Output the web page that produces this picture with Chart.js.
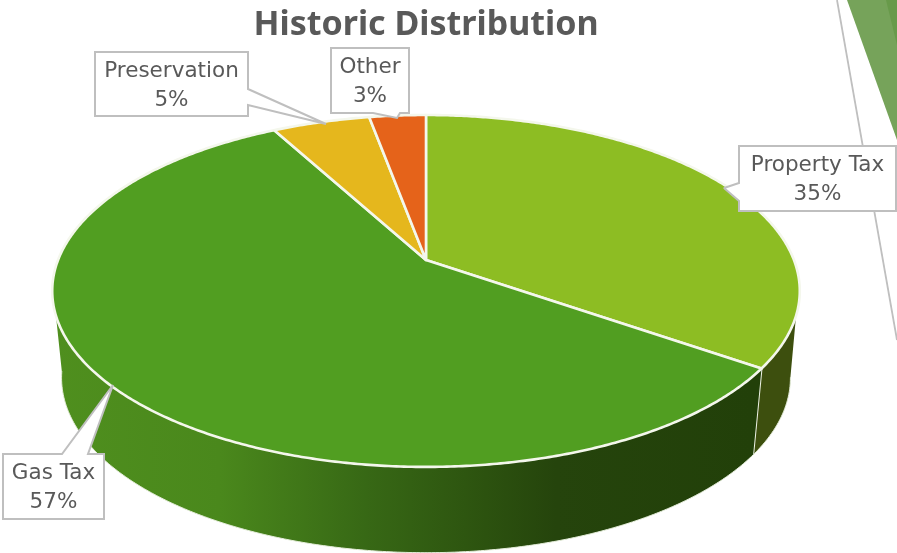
<!DOCTYPE html>
<html><head><meta charset="utf-8">
<style>html,body{margin:0;padding:0;background:#fff;overflow:hidden}canvas{display:block}</style>
<script src="https://cdn.jsdelivr.net/npm/chart.js@4/dist/chart.umd.js"></script>
</head><body><canvas id="c" width="897" height="553"></canvas>
<script>
const categories = ["Property Tax","Gas Tax","Preservation","Other"];
const shares = [34.7,57.4,5.0,2.9];
const sliceColors = ["#8dbd23","#519e21","#e5b71d","#e5631a"];
const titleText = "Historic Distribution";

const FONT = '"DejaVu Sans"';
const TEXT = "#595959", BOX = "#bfbfbf";
// perspective of the disc: apex stays at the element centre
const K = -0.176, XS = 2.158;
const DROP = 87, LOW_X = 0.975, LOW_Y = 0.994;
function proj(el, a, low){
  const u = Math.cos(a), v = Math.sin(a), d = 1 + K*v, R = el.outerRadius;
  return low ? [el.x + R*XS*LOW_X*u/d, el.y + DROP + R*LOW_Y*v/d]
             : [el.x + R*XS*u/d, el.y + R*v/d];
}
const RAD = Math.PI/180;
// where the silhouette of the cylinder leaves the top rim and the lower rim
const TOP_R = 18*RAD, LOW_R = 10*RAD, TOP_L = 162*RAD, LOW_L = 172*RAD;
function arcPts(el, a0, a1, low){
  const n = Math.max(2, Math.ceil((a1-a0)/(0.5*RAD))), pts = [];
  for(let i=0;i<=n;i++) pts.push(proj(el, a0+(a1-a0)*i/n, low));
  return pts;
}
function wallFill(ctx, i){
  if(i===0) return "#3d4f0e";
  const g = ctx.createLinearGradient(52,0,752,0);
  [[0,"#4f8f1e"],[0.24,"#4a881c"],[0.45,"#376815"],[0.62,"#2c520f"],[0.72,"#25440c"],[1,"#224009"]]
    .forEach(s=>g.addColorStop(s[0],s[1]));
  return g;
}
function path(ctx, pts){ pts.forEach((p,k)=>k?ctx.lineTo(p[0],p[1]):ctx.moveTo(p[0],p[1])); }
Chart.ArcElement.prototype.draw = function(ctx){
  const i = this.$context ? this.$context.dataIndex : 0;
  const a0 = this.startAngle, a1 = this.endAngle;
  ctx.save();
  // side wall: only slices that reach the front of the disc have one
  const t0 = Math.max(a0, TOP_R), t1 = Math.min(a1, TOP_L);
  if(t1 > t0){
    const l0 = Math.max(a0, LOW_R), l1 = Math.min(a1, LOW_L);
    const top = arcPts(this,t0,t1,false), low = arcPts(this,l0,l1,true);
    ctx.beginPath();
    path(ctx, top.concat(low.slice().reverse()));
    ctx.closePath();
    ctx.fillStyle = wallFill(ctx,i); ctx.fill();
    ctx.beginPath(); path(ctx, low);
    ctx.strokeStyle = "#e3ecd8"; ctx.lineWidth = 1; ctx.stroke();
    if(i===0){
      const p = proj(this,a1,false), q = proj(this,a1,true);
      ctx.beginPath(); ctx.moveTo(p[0],p[1]); ctx.lineTo(q[0],q[1]);
      ctx.strokeStyle = "#eef3e6"; ctx.lineWidth = 2; ctx.stroke();
    }
  }
  // top face
  ctx.beginPath(); ctx.moveTo(this.x,this.y);
  arcPts(this,a0,a1,false).forEach(p=>ctx.lineTo(p[0],p[1]));
  ctx.closePath();
  ctx.fillStyle = sliceColors[i]; ctx.fill();
  ctx.lineJoin = "round"; ctx.strokeStyle = "#f4f7ec"; ctx.lineWidth = 2.6; ctx.stroke();
  ctx.restore();
};

const callouts = {
  "Property Tax": {box:[739,146,896,211], ptr:[[739,183],[724,188],[739,201]]},
  "Gas Tax":      {box:[3,454,104,519],   ptr:[[62,454],[113,385],[88,454]]},
  "Preservation": {box:[95,52,248,116],   ptr:[[248,89],[326,124],[248,105]]},
  "Other":        {box:[331,48,409,113],  ptr:[[373,113],[397,118],[400,113]]}
};
const decor = {
  id:"decor",
  beforeDraw(chart){
    const c = chart.ctx; c.save();
    c.fillStyle="#76a35a"; c.beginPath(); c.moveTo(847,0); c.lineTo(897,0); c.lineTo(897,140); c.closePath(); c.fill();
    c.fillStyle="#689a4a"; c.beginPath(); c.moveTo(886,0); c.lineTo(897,0); c.lineTo(897,45); c.closePath(); c.fill();
    c.strokeStyle=BOX; c.lineWidth=1.8; c.beginPath(); c.moveTo(837,0); c.lineTo(897,340); c.stroke();
    c.restore();
  },
  afterDraw(chart){
    const c = chart.ctx; c.save();
    categories.forEach((name,i)=>{
      const o = callouts[name], [l,t,r,b] = o.box;
      const [p0,p1,p2] = o.ptr;
      c.beginPath();
      if(p0[0]===r){ c.moveTo(l,t);c.lineTo(r,t);c.lineTo(p0[0],p0[1]);c.lineTo(p1[0],p1[1]);c.lineTo(p2[0],p2[1]);c.lineTo(r,b);c.lineTo(l,b); }
      else if(p0[0]===l){ c.moveTo(r,t);c.lineTo(l,t);c.lineTo(p0[0],p0[1]);c.lineTo(p1[0],p1[1]);c.lineTo(p2[0],p2[1]);c.lineTo(l,b);c.lineTo(r,b); }
      else if(p0[1]===t){ c.moveTo(l,b);c.lineTo(l,t);c.lineTo(p0[0],p0[1]);c.lineTo(p1[0],p1[1]);c.lineTo(p2[0],p2[1]);c.lineTo(r,t);c.lineTo(r,b); }
      else { c.moveTo(l,t);c.lineTo(r,t);c.lineTo(r,b);c.lineTo(p2[0],p2[1]);c.lineTo(p1[0],p1[1]);c.lineTo(p0[0],p0[1]);c.lineTo(l,b); }
      c.closePath();
      c.fillStyle="#fff"; c.fill();
      c.strokeStyle=BOX; c.lineWidth=2; c.lineJoin="miter"; c.miterLimit=2; c.stroke();
      c.fillStyle=TEXT; c.font="21.5px "+FONT; c.textAlign="center"; c.textBaseline="middle";
      const cx=(l+r)/2;
      c.fillText(name,cx,t+19);
      c.fillText(Math.round(shares[i])+"%",cx,t+48);
    });
    c.restore();
  }
};

new Chart(document.getElementById("c"),{
  type:"pie",
  data:{labels:categories,datasets:[{data:shares,backgroundColor:sliceColors,borderWidth:0,hoverOffset:0}]},
  options:{
    responsive:false,animation:false,
    layout:{padding:{top:0,left:0,right:45,bottom:122.5}},
    plugins:{
      legend:{display:false},tooltip:{enabled:false},
      title:{display:true,text:titleText,color:TEXT,font:{family:'"Noto Sans"',size:34,weight:"bold"},padding:{top:5,bottom:43.7}}
    }
  },
  plugins:[decor]
});
</script></body></html>
